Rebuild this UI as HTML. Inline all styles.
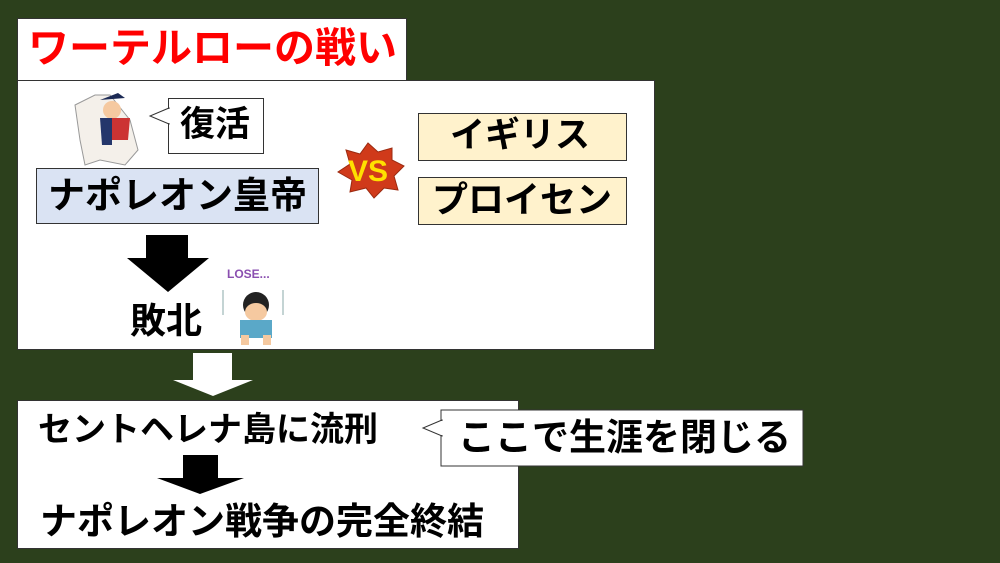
<!DOCTYPE html>
<html><head><meta charset="utf-8"><style>
body{margin:0;width:1000px;height:563px;background:#2c401c;position:relative;overflow:hidden;font-family:"Liberation Sans","Noto Sans CJK JP",sans-serif;font-weight:bold}
.b{position:absolute;box-sizing:border-box;border:1px solid #333;background:#fff}
.t{position:absolute;white-space:nowrap;color:#000;line-height:1}
</style></head><body>
<div class="b" style="left:17px;top:18px;width:390px;height:63px"></div>
<div class="t" style="left:28px;top:28px;font-size:41px;color:#f00">ワーテルローの戦い</div>
<div class="b" style="left:17px;top:80px;width:638px;height:270px"></div>
<div class="b" style="left:168px;top:98px;width:96px;height:56px"></div>
<div class="t" style="left:180px;top:107px;font-size:35px">復活</div>
<svg style="position:absolute;left:0;top:0" width="1000" height="563">
<polygon points="169,108 150,116 169,124" fill="#fff" stroke="#333"/>
<line x1="169" y1="109" x2="169" y2="123" stroke="#fff" stroke-width="2"/>
<path d="M75,105 L95,95 L110,95 L130,120 L138,150 L125,165 L100,160 L85,165 L80,140 Z" fill="#f4f0ea" stroke="#999"/>
<circle cx="112" cy="110" r="9" fill="#f5c9a0"/>
<path d="M100,100 L125,98 L118,93 Z" fill="#1c2a55"/>
<path d="M110,118 L130,118 L128,140 L112,140 Z" fill="#c33"/>
<path d="M100,118 L112,118 L112,145 L102,145 Z" fill="#24366b"/>
<polygon points="368,143 378,152 392,148 392,160 404,166 394,176 398,190 384,188 374,198 366,188 350,192 352,180 338,172 350,164 346,150 360,154" fill="#d03a1a" stroke="#9b2a10"/>
<text x="368" y="181" font-size="30" font-weight="bold" fill="#ffe000" text-anchor="middle" font-family="Liberation Sans,sans-serif">VS</text>
<polygon points="146,235 188,235 188,258 209,258 168,292 127,258 146,258" fill="#000"/>
<text x="227" y="278" font-size="12" font-weight="bold" fill="#8a4fb0" font-family="Liberation Sans,sans-serif">LOSE...</text>
<circle cx="256" cy="305" r="13" fill="#222"/>
<ellipse cx="256" cy="312" rx="11" ry="9" fill="#f5c9a0"/>
<rect x="240" y="320" width="32" height="18" fill="#5aa8c8"/>
<rect x="241" y="335" width="8" height="10" fill="#f5c9a0"/><rect x="263" y="335" width="8" height="10" fill="#f5c9a0"/>
<line x1="223" y1="290" x2="223" y2="315" stroke="#8aa"/><line x1="283" y1="290" x2="283" y2="315" stroke="#8aa"/>
<polygon points="193,353 232,353 232,380 253,380 213,396 173,380 193,380" fill="#fff"/>
</svg>
<div class="b" style="left:36px;top:168px;width:283px;height:56px;background:#dae3f3"></div>
<div class="t" style="left:48px;top:177px;font-size:37px">ナポレオン皇帝</div>
<div class="b" style="left:418px;top:113px;width:209px;height:48px;background:#fff2cc"></div>
<div class="t" style="left:450px;top:118px;font-size:35px">イギリス</div>
<div class="b" style="left:418px;top:177px;width:209px;height:48px;background:#fff2cc"></div>
<div class="t" style="left:432px;top:182px;font-size:36px">プロイセン</div>
<div class="t" style="left:130px;top:303px;font-size:36px">敗北</div>
<div class="b" style="left:17px;top:400px;width:502px;height:149px"></div>
<div class="t" style="left:38px;top:413px;font-size:34px">セントヘレナ島に流刑</div>
<div class="t" style="left:40px;top:503px;font-size:37px">ナポレオン戦争の完全終結</div>
<svg style="position:absolute;left:0;top:0" width="1000" height="563">
<polygon points="183,455 218,455 218,478 244,478 200,494 157,478 183,478" fill="#000"/>
<rect x="441" y="410" width="362" height="56" fill="#fff" stroke="#333"/>
<polygon points="442,420 423,428 442,436" fill="#fff" stroke="#333"/>
<line x1="442" y1="421" x2="442" y2="435" stroke="#fff" stroke-width="2"/>
</svg>
<div class="t" style="left:458px;top:419px;font-size:37px">ここで生涯を閉じる</div>
</body></html>
